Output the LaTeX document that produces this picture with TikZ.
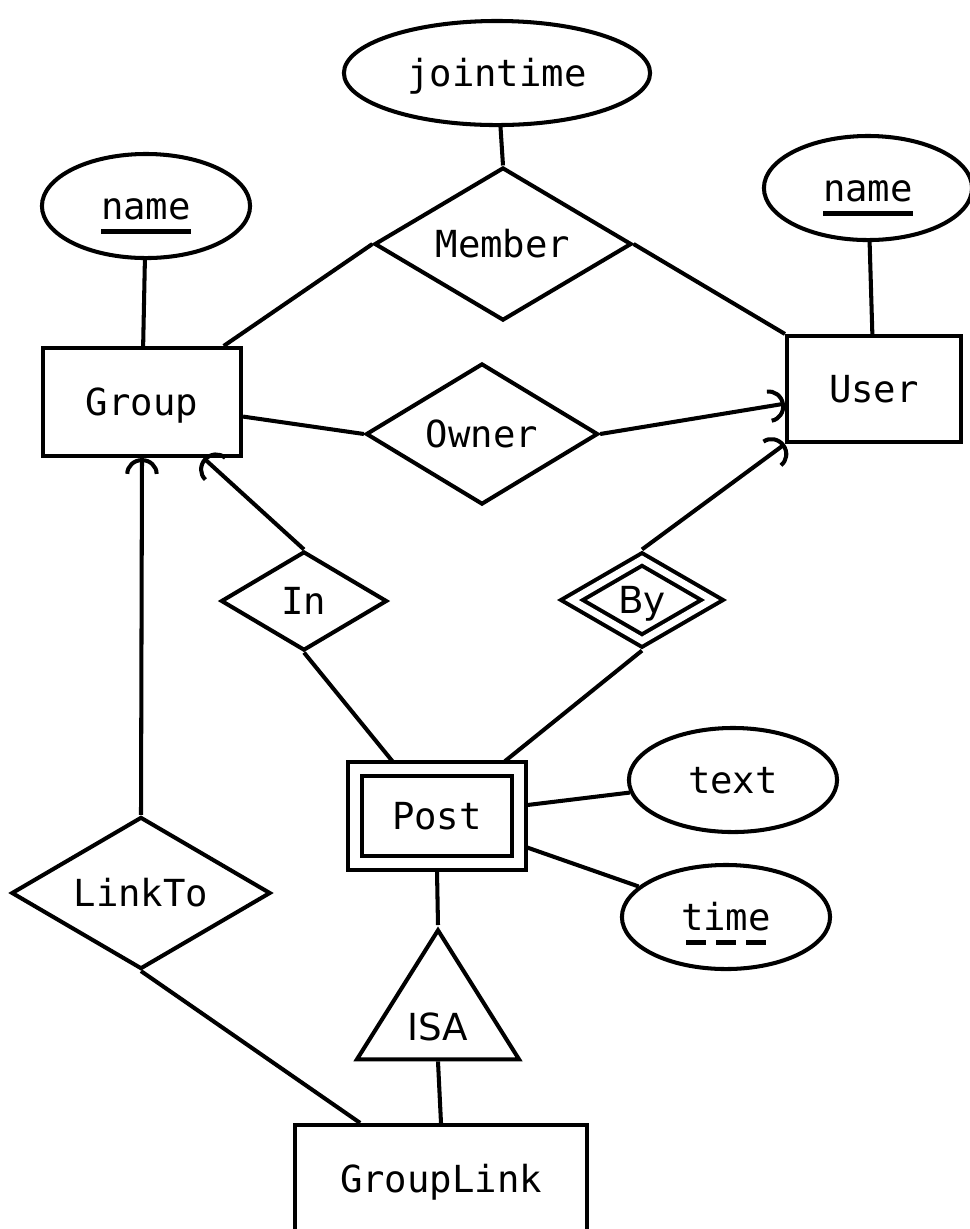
\documentclass[tikz,border=0pt]{standalone}
\usepackage{fontspec}
\setmonofont{DejaVu Sans Mono}
\setsansfont{DejaVu Sans}
\usetikzlibrary{arrows.meta,shapes.geometric}
\newcommand{\erfont}{\fontsize{10.6pt}{12pt}\selectfont}
\newcommand{\keyul}[1]{\setbox0\hbox{#1}\rlap{\vrule height -2.8pt depth 4pt width \wd0}\box0}
\newcommand{\partkey}[1]{\setbox0\hbox{#1}\rlap{\hbox to \wd0{\cleaders\hbox{\kern.14em\vrule height -2.8pt depth 4pt width .52em\kern.14em}\hfil}}\box0}

\begin{document}
\begin{tikzpicture}[x=0.01cm,y=-0.01cm,line width=1.15pt,font=\ttfamily\erfont,
    every node/.style={text height=0.27cm,text depth=0pt},
    entity/.style={draw,rectangle,inner sep=0pt},
    attr/.style={draw,ellipse,inner sep=0pt,minimum width=2.08cm,minimum height=1.04cm},
    rel/.style={draw,diamond,aspect=1.68,inner sep=0pt},
    onearrow/.style={-{Arc Barb[width=9.5pt,length=4.5pt]}}]
  \useasboundingbox (0,0) rectangle (970,1229);
  % attributes on top
  \node (jt) [attr,minimum width=3.06cm] at (497,73) {jointime};
  \node (gname) [attr] at (146,206) {\keyul{name}};
  \node (uname) [attr] at (868,188) {\keyul{name}};
  % entities and relationships
  \node (member) [rel,minimum width=2.57cm,minimum height=1.53cm] at (503,244) {Member};
  \node (group) [entity,minimum width=1.98cm,minimum height=1.08cm] at (142,402) {Group};
  \node (user) [entity,minimum width=1.74cm,minimum height=1.06cm] at (874,389) {User};
  \node (owner) [rel,minimum width=2.32cm,minimum height=1.41cm] at (482,434) {Owner};
  \node (inrel) [rel,minimum width=1.66cm,minimum height=0.99cm] at (304,601) {In};
  \node (byrel) [rel,double,double distance=0.068cm,outer sep=2pt,minimum width=1.46cm,minimum height=0.87cm,font=\sffamily\erfont] at (642,600) {By};
  \node (post) [entity,double,double distance=0.1cm,outer sep=2.2pt,minimum width=1.635cm,minimum height=0.94cm] at (437,816) {Post};
  \node (ptext) [attr] at (733,780) {text};
  \node (ptime) [attr] at (726,917) {\partkey{time}};
  \node (linkto) [rel,minimum width=2.59cm,minimum height=1.52cm] at (141,893) {LinkTo};
  \node (isa) [draw,isosceles triangle,isosceles triangle stretches,shape border rotate=90,inner sep=0pt,
    minimum width=1.62cm,minimum height=1.29cm,anchor=apex,font=\sffamily\erfont] at (438,925) {ISA};
  \node (glink) [entity,minimum width=2.92cm,minimum height=1.08cm] at (441,1179) {GroupLink};
  % connectors
  \draw (jt) -- (member.north);
  \draw (gname) -- (group);
  \draw (uname) -- (user);
  \draw (member.west) -- (group);
  \draw (member.east) -- (user.north west);
  \draw (group) -- (owner.west);
  \draw[onearrow] (owner.east) -- (user);
  \draw[onearrow] (inrel.north) -- (group);
  \draw[onearrow] (byrel.north) -- (user.south west);
  \draw[onearrow] (linkto.north) -- (group.south);
  \draw (inrel.south) -- (post);
  \draw (byrel.south) -- (post);
  \draw (post) -- (ptext);
  \draw (post) -- (ptime);
  \draw (post.south) -- (isa.apex);
  \draw (isa.lower side) -- (glink.north);
  \draw (linkto.south) -- (glink);
\end{tikzpicture}
\end{document}
